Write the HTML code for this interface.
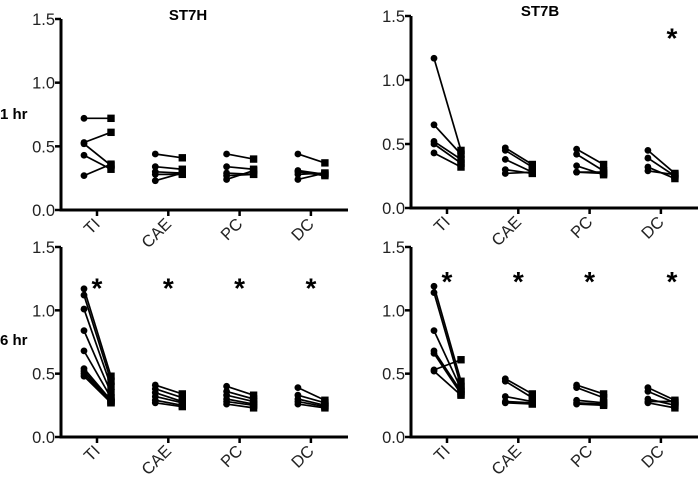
<!DOCTYPE html>
<html><head><meta charset="utf-8"><style>
body{margin:0;background:#fff;}
svg{display:block;font-family:"Liberation Sans",Arial,sans-serif;}
</style></head><body>
<svg id="c" width="700" height="477"></svg>
<script>
const categories=["TI","CAE","PC","DC"];
const yTicks=[0,0.5,1.0,1.5];
const yTickLabels=["0.0","0.5","1.0","1.5"];
// before/after pairs per category
const tlBefore=[[0.72,0.53,0.52,0.43,0.27],[0.44,0.34,0.30,0.28,0.23],[0.44,0.34,0.29,0.27,0.24],[0.44,0.31,0.30,0.28,0.24]];
const tlAfter=[[0.72,0.61,0.35,0.32,0.36],[0.41,0.32,0.29,0.28,0.29],[0.40,0.32,0.28,0.28,0.31],[0.37,0.28,0.27,0.29,0.29]];
const trBefore=[[1.17,0.65,0.52,0.50,0.43],[0.47,0.45,0.38,0.30,0.27],[0.46,0.42,0.33,0.28,0.28],[0.45,0.39,0.32,0.29]];
const trAfter=[[0.45,0.42,0.38,0.35,0.32],[0.34,0.32,0.28,0.27,0.28],[0.34,0.29,0.26,0.27,0.28],[0.27,0.25,0.23,0.26]];
const blBefore=[[1.17,1.12,1.01,0.84,0.68,0.54,0.52,0.50,0.48],[0.41,0.38,0.35,0.32,0.29,0.27],[0.40,0.36,0.33,0.30,0.28,0.26],[0.39,0.33,0.30,0.28,0.26]];
const blAfter=[[0.48,0.44,0.40,0.35,0.31,0.29,0.28,0.27,0.27],[0.34,0.31,0.28,0.27,0.25,0.24],[0.33,0.30,0.28,0.26,0.25,0.23],[0.29,0.27,0.25,0.24,0.23]];
const brBefore=[[1.19,1.14,0.84,0.68,0.66,0.53,0.52],[0.46,0.44,0.32,0.28,0.27],[0.41,0.39,0.29,0.27,0.26],[0.39,0.36,0.30,0.27,0.28]];
const brAfter=[[0.44,0.40,0.38,0.36,0.34,0.61,0.33],[0.34,0.31,0.28,0.27,0.26],[0.34,0.31,0.27,0.26,0.25],[0.29,0.27,0.25,0.23,0.28]];
const trStars=[null,null,null,1.37];
const blStars=[1.22,1.22,1.22,1.22];
const brStars=[1.27,1.27,1.27,1.27];
const NS="http://www.w3.org/2000/svg";
const svg=document.getElementById('c');
function el(t,a,p){const e=document.createElementNS(NS,t);for(const k in a)e.setAttribute(k,a[k]);(p||svg).appendChild(e);return e;}
function panel(name,ox,y0,y15,before,after,stars){
  const g=el('g',{});
  
  
  const ax=ox+61,right=ox+348;
  const ys=v=>y0-(y0-y15)*v/1.5;
  const xs=i=>ox+97+i*71.3;
  const ya=el('line',{x1:ax,y1:y15,x2:ax,y2:y0+1.5,stroke:'#000','stroke-width':3},g);
  
  const xa=el('line',{x1:ax-1.5,y1:y0,x2:right,y2:y0,stroke:'#000','stroke-width':3},g);
  
  yTicks.forEach((v,i)=>{
    el('line',{x1:ax-6,y1:ys(v),x2:ax,y2:ys(v),stroke:'#000','stroke-width':2.5},g);
    const t=el('text',{x:ax-6,y:ys(v)+6,'text-anchor':'end','font-size':16.5,fill:'#222'},g);
    t.textContent=yTickLabels[i];
    
  });
  categories.forEach((c,i)=>{
    const x=xs(i);
    el('line',{x1:x,y1:y0,x2:x,y2:y0+6,stroke:'#000','stroke-width':2.5},g);
    const t=el('text',{x:x+4,y:y0+15,'text-anchor':'end','font-size':16.5,fill:'#222',transform:`rotate(-45 ${x+4} ${y0+15})`},g);
    t.textContent=c;
    
    before[i].forEach((b,j)=>{
      const a=after[i][j];
      const x1=x-13,x2=x+14;
      el('line',{x1:x1,y1:ys(b),x2:x2,y2:ys(a),stroke:'#000','stroke-width':1.7},g);
      const d=el('circle',{cx:x1,cy:ys(b),r:3.4,fill:'#000'},g);
      
      const s=el('rect',{x:x2-3.7,y:ys(a)-3.7,width:7.4,height:7.4,fill:'#000'},g);
      
    });
    if(stars&&stars[i]!=null){
      const st=el('text',{x:x+(i==3&&name.includes('st7b')?11:0),y:ys(stars[i])+15,'text-anchor':'middle','font-size':28,'font-weight':'bold'},g);
      st.textContent='*';
      
    }
  });
}
panel('panel-st7h-1hr',0,210,19,tlBefore,tlAfter,null);
panel('panel-st7b-1hr',350,208,16,trBefore,trAfter,trStars);
panel('panel-st7h-6hr',0,437,247,blBefore,blAfter,blStars);
panel('panel-st7b-6hr',350,437,247,brBefore,brAfter,brStars);
function label(txt,x,y,name,anchor){const t=el('text',{x:x,y:y,'font-size':15,'font-weight':'bold','text-anchor':anchor||'start'});t.textContent=txt;}
label('ST7H',188,20,'title-st7h','middle');
label('ST7B',540,16,'title-st7b','middle');
label('1 hr',0,119,'row-label-1hr');
label('6 hr',0,345,'row-label-6hr');
</script>
</body></html>
